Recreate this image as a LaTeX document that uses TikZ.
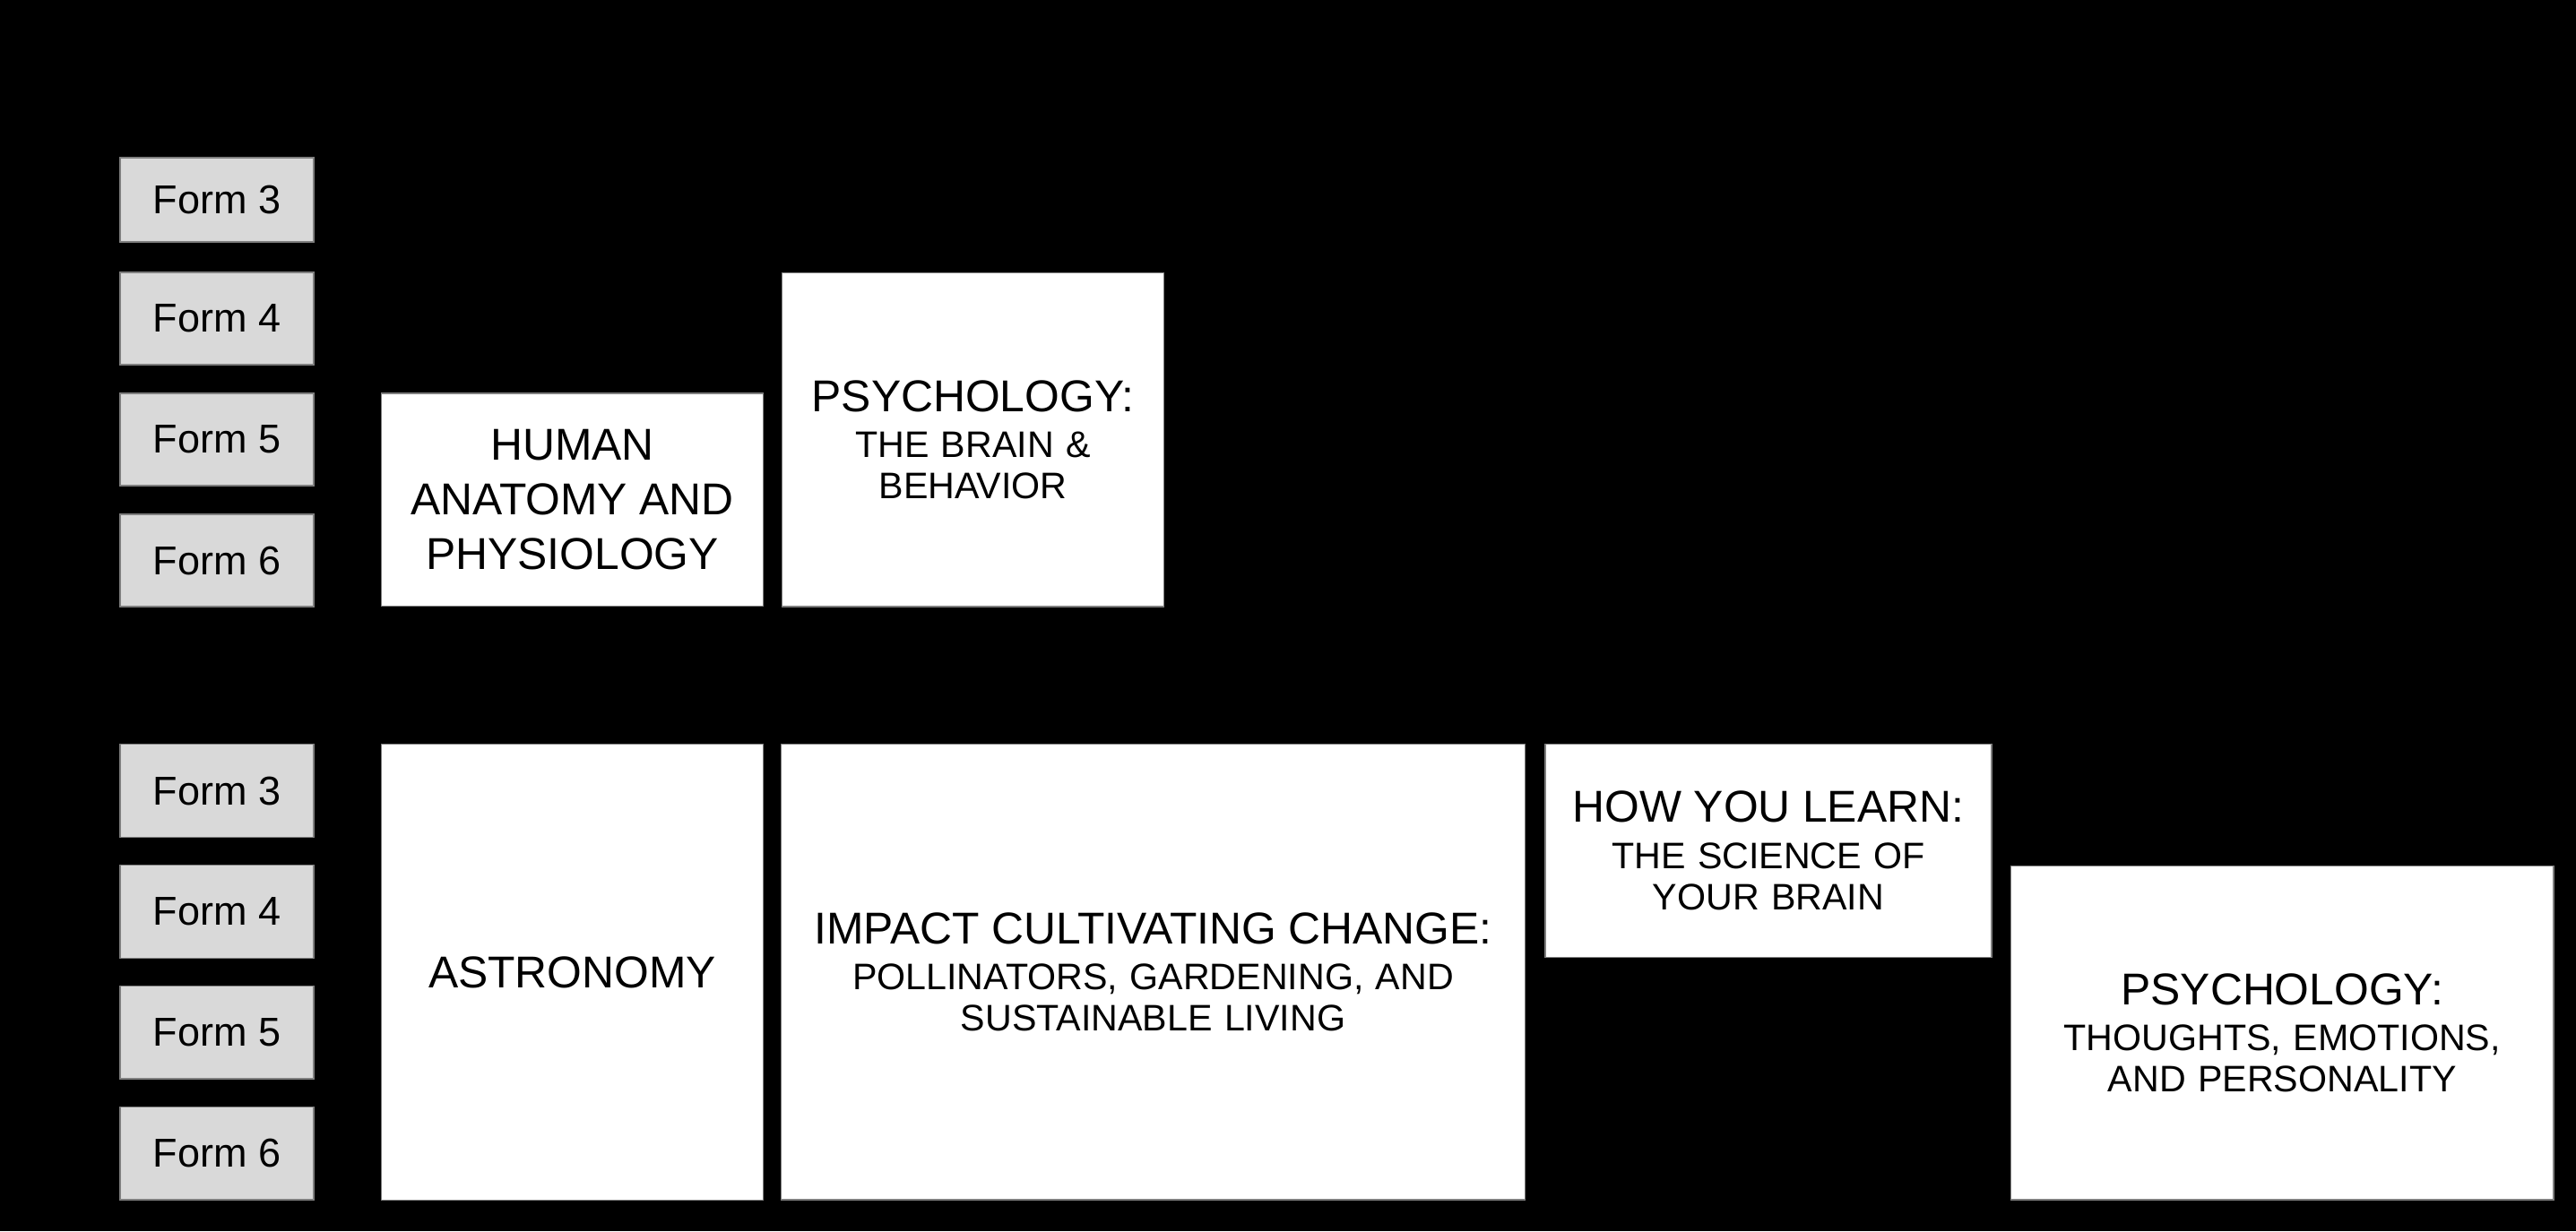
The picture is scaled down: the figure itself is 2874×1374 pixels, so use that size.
\documentclass[tikz,border=0pt]{standalone}
\usepackage{fontspec}
\setmainfont{Liberation Sans}
\newcommand\titlef{\fontsize{12.45pt}{15.2pt}\selectfont}
\newcommand\subf{\fontsize{10.3pt}{11.5pt}\selectfont}
\newcommand\formf{\fontsize{11.25pt}{13pt}\selectfont}
\definecolor{formgray}{HTML}{D9D9D9}
\definecolor{bordergray}{HTML}{7F7F7F}
\begin{document}
\begin{tikzpicture}[x=0.25pt,y=-0.25pt,
  formbox/.style={draw=bordergray, line width=0.3pt, fill=formgray,
    minimum width=216*0.25pt, inner sep=0pt, font=\formf},
  course/.style={draw=bordergray, line width=0.3pt, fill=white,
    inner sep=0pt, align=center},
]
\fill[black] (0,0) rectangle (2874,1374);
\useasboundingbox (0,0) rectangle (2874,1374);

% top group of forms
\node[formbox, minimum height=94*0.25pt]  (f3a) at (242,223)   {Form 3};
\node[formbox, minimum height=103*0.25pt] (f4a) at (242,355.5) {Form 4};
\node[formbox, minimum height=103*0.25pt] (f5a) at (242,490.5) {Form 5};
\node[formbox, minimum height=103*0.25pt] (f6a) at (242,625.5) {Form 6};

% bottom group of forms
\node[formbox, minimum height=103.5*0.25pt] (f3b) at (242,882.5)  {Form 3};
\node[formbox, minimum height=103.5*0.25pt] (f4b) at (242,1017.5) {Form 4};
\node[formbox, minimum height=103.5*0.25pt] (f5b) at (242,1152.3) {Form 5};
\node[formbox, minimum height=103.5*0.25pt] (f6b) at (242,1287.3) {Form 6};

% courses
\node[course, minimum width=426*0.25pt, minimum height=237.5*0.25pt,
  text width=410*0.25pt] (anat) at (638.5,557.7)
  {\titlef HUMAN\\ANATOMY AND\\PHYSIOLOGY\par};

\node[course, minimum width=425.6*0.25pt, minimum height=372.7*0.25pt,
  text width=410*0.25pt] (psyA) at (1085.5,490.6)
  {{\titlef PSYCHOLOGY:\par}\vspace{1.4pt}{\subf THE BRAIN \&\\BEHAVIOR\par}};

\node[course, minimum width=426*0.25pt, minimum height=508.5*0.25pt,
  text width=410*0.25pt] (astro) at (638.5,1085)
  {\titlef ASTRONOMY\par};

\node[course, minimum width=829.5*0.25pt, minimum height=508.3*0.25pt,
  text width=810*0.25pt] (impact) at (1286.5,1084.9)
  {{\titlef IMPACT CULTIVATING CHANGE:\par}\vspace{1.4pt}{\subf POLLINATORS, GARDENING, AND\\SUSTAINABLE LIVING\par}};

\node[course, minimum width=498*0.25pt, minimum height=237.6*0.25pt,
  text width=485*0.25pt] (learn) at (1973,949.5)
  {{\titlef HOW YOU LEARN:\par}\vspace{1.4pt}{\subf THE SCIENCE OF\\YOUR BRAIN\par}};

\node[course, minimum width=605.4*0.25pt, minimum height=372.5*0.25pt,
  text width=590*0.25pt] (psyB) at (2546.3,1152.75)
  {{\titlef PSYCHOLOGY:\par}\vspace{1.4pt}{\subf THOUGHTS, EMOTIONS,\\AND PERSONALITY\par}};
\end{tikzpicture}
\end{document}
